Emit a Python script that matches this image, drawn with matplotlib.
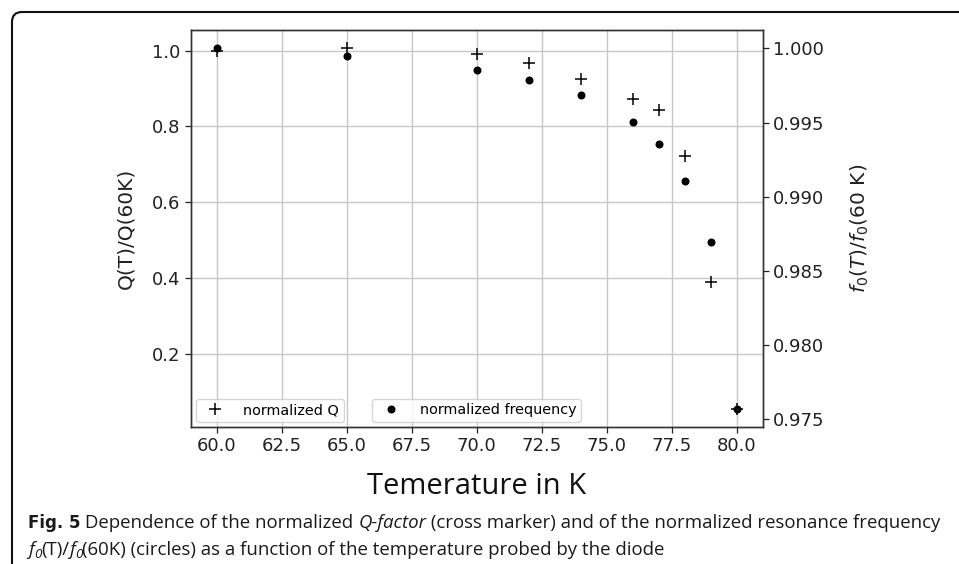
import matplotlib
matplotlib.use("Agg")
import matplotlib.pyplot as plt
import matplotlib.patches as patches
from matplotlib.transforms import IdentityTransform

# Data
temperature = [60, 65, 70, 72, 74, 76, 77, 78, 79, 80]
q_norm = [1.0, 1.006, 0.990, 0.966, 0.925, 0.872, 0.843, 0.721, 0.389, 0.056]
f_norm = [1.0, 0.99948, 0.99854, 0.99789, 0.99688, 0.99504, 0.99354, 0.99109, 0.98697, 0.97572]

x_ticks = [60.0, 62.5, 65.0, 67.5, 70.0, 72.5, 75.0, 77.5, 80.0]
q_ticks = [0.2, 0.4, 0.6, 0.8, 1.0]
f_ticks = [0.975, 0.980, 0.985, 0.990, 0.995, 1.000]

W, H = 959, 564
fig = plt.figure(figsize=(W / 100, H / 100), dpi=100)
ax = fig.add_axes([190.7 / W, 1 - 426.7 / H, (762.7 - 190.7) / W, (426.7 - 30.3) / H])
ax2 = ax.twinx()

ax.plot(temperature, q_norm, '+', color='black', markersize=9, markeredgewidth=1.1,
        label='normalized Q')
ax2.plot(temperature, f_norm, '.', color='black', markersize=9.5,
         label='normalized frequency')

ax.set_xticks(x_ticks)
ax.set_xticklabels([f"{t:.1f}" for t in x_ticks])
ax.set_yticks(q_ticks)
ax.set_yticklabels([f"{q:.1f}" for q in q_ticks])
ax2.set_yticks(f_ticks)
ax2.set_yticklabels([f"{f:.3f}" for f in f_ticks])

ax.grid(True, color='#c8c8c8', linewidth=1.0)
ax.set_axisbelow(True)

for a in (ax, ax2):
    a.tick_params(labelsize=13, colors='#222222', length=4, width=0.9)
    for sp in a.spines.values():
        sp.set_color('#333333')
        sp.set_linewidth(1.0)

ax.set_ylabel('Q(T)/Q(60K)', fontsize=14.5, color='#222222', labelpad=12)
ax2.set_ylabel(r'$f_0(T)/f_0$(60 K)', fontsize=14.5, color='#222222', labelpad=17)
ax.set_xlabel('Temerature in K', fontsize=21, family='Open Sans', color='#111111',
              labelpad=12)

ax.legend(loc='lower left', fontsize=10.4, borderaxespad=0.35, handletextpad=1.0,
          borderpad=0.3)
ax2.legend(loc='lower center', fontsize=10.4, borderaxespad=0.35, handletextpad=1.0,
           borderpad=0.3)

# Frame round the whole figure
frame = patches.FancyBboxPatch((12, -30), 980, 582,
                               boxstyle='round,pad=0,rounding_size=10',
                               linewidth=1.5, edgecolor='#111111', facecolor='none',
                               transform=IdentityTransform())
fig.patches.append(frame)

# Caption, placed piece by piece
fig.canvas.draw()
renderer = fig.canvas.get_renderer()
cap_size = 13.4


def put_pieces(pieces, x0, y0):
    x = x0
    for text, weight, style, sub in pieces:
        size = cap_size * (0.72 if sub else 1.0)
        y = y0 + (3 if sub else 0)
        fam = 'Open Sans'
        if weight == 'bold':
            fam = 'DejaVu Sans'
            size = 12
        t = fig.text(x / W, 1 - y / H, text, fontsize=size, fontweight=weight,
                     fontstyle=style, family=fam, color='#1a1a1a',
                     va='baseline', ha='left')
        bb = t.get_window_extent(renderer)
        x += bb.width


line1 = [("Fig. 5", 'bold', 'normal', False),
         (" Dependence of the normalized ", 'normal', 'normal', False),
         ("Q-factor", 'normal', 'italic', False),
         (" (cross marker) and of the normalized resonance frequency", 'normal', 'normal', False)]
line2 = [("f", 'normal', 'italic', False),
         ("0", 'normal', 'italic', True),
         ("(T)/", 'normal', 'normal', False),
         ("f", 'normal', 'italic', False),
         ("0", 'normal', 'italic', True),
         ("(60K) (circles) as a function of the temperature probed by the diode",
          'normal', 'normal', False)]
put_pieces(line1, 28, 528)
put_pieces(line2, 28, 555)

fig.savefig('out.png', dpi=100, facecolor='white')
